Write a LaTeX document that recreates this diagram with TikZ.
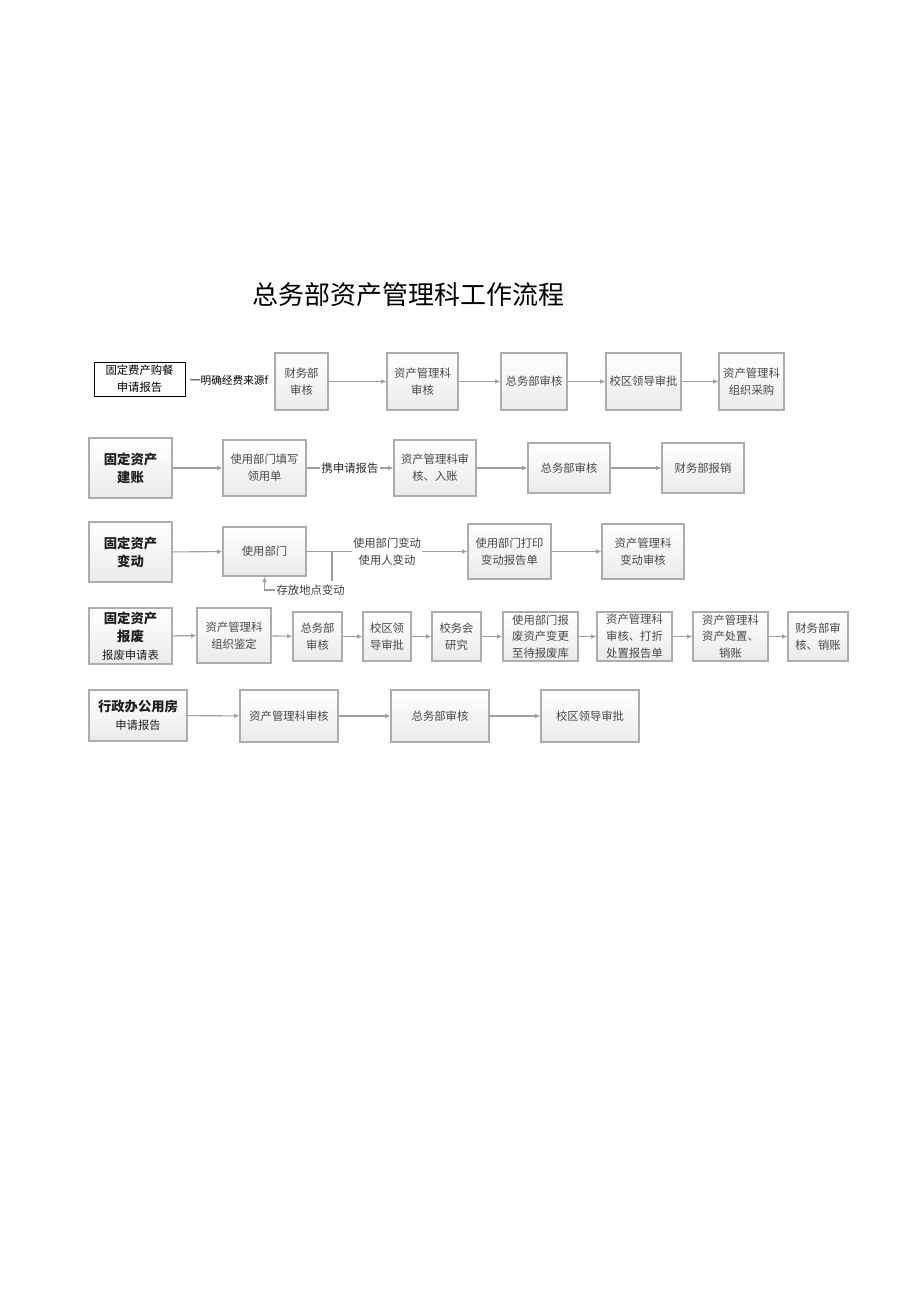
\documentclass[tikz,border=0pt]{standalone}
\usepackage{fontspec}
\setmainfont{Noto Sans CJK SC}
\usetikzlibrary{arrows.meta,shadows,calc}
\begin{document}
\begin{tikzpicture}[x=0.75pt,y=-0.75pt,
  sz/.style 2 args={minimum width=#1*0.75pt, minimum height=#2*0.75pt},
  box/.style={draw=gray!65, line width=0.8pt, top color=white, bottom color=gray!16,
    drop shadow={shadow xshift=0.9pt, shadow yshift=-0.9pt, opacity=0.25},
    align=center, inner sep=1pt, font=\fontsize{8.5}{13}\selectfont, text=black!72},
  tight/.style={inner sep=0pt, font=\fontsize{8.5}{12.6}\selectfont},
  head/.style={box, font=\fontsize{10}{13.5}\bfseries\selectfont, text=black!88},
  plainbox/.style={draw=black, line width=0.6pt, fill=white, align=center, inner sep=1pt,
    font=\fontsize{8.5}{13}\selectfont, text=black},
  arr/.style={draw=gray!75, line width=0.8pt, -{Latex[length=4pt,width=3.5pt]}},
  ln/.style={draw=gray!75, line width=0.8pt},
  lbl/.style={font=\fontsize{8.5}{12.5}\selectfont, text=black!75, inner sep=1pt, align=center}
]
\useasboundingbox (0,0) rectangle (920,1301);

% title
\node[font=\fontsize{19.5}{22}\selectfont, text=black] (title) at (408,295) {总务部资产管理科工作流程};

% row 1
\node[plainbox, sz={91}{34}] (a0) at (139.5,379) {固定费产购餐\\申请报告};
\node[lbl, font=\fontsize{8}{10}\selectfont, text=black] (lab1) at (229,380) {一明确经费来源f};
\node[box, sz={53}{57}] (a1) at (301.5,381.5) {财务部\\审核};
\node[box, sz={71}{57}] (a2) at (422.5,381.5) {资产管理科\\审核};
\node[box, sz={66}{57}] (a3) at (534,381.5) {总务部审核};
\node[box, sz={75}{57}] (a4) at (643.5,381.5) {校区领导审批};
\node[box, sz={65}{57}] (a5) at (751.5,381.5) {资产管理科\\组织采购};
\draw[arr] (a1) -- (a2);
\draw[arr] (a2) -- (a3);
\draw[arr] (a3) -- (a4);
\draw[arr] (a4) -- (a5);

% row 2
\node[head, sz={83}{60}] (b0) at (130.5,468) {固定资产\\建账};
\node[box, sz={83}{56}] (b1) at (264.5,468) {使用部门填写\\领用单};
\node[box, sz={82}{56}] (b2) at (435,468) {资产管理科审\\核、入账};
\node[box, sz={82}{50}] (b3) at (569,468) {总务部审核};
\node[box, sz={82}{50}] (b4) at (703,468) {财务部报销};
\draw[arr] (b0) -- (b1);
\draw[arr] (b1) -- node[lbl, fill=white, text=black!85] (lab2) {携申请报告} (b2);
\draw[arr] (b2) -- (b3);
\draw[arr] (b3) -- (b4);

% row 3
\node[head, sz={83}{60}] (c0) at (130.5,552) {固定资产\\变动};
\node[box, sz={83}{49}] (c1) at (264.5,551.5) {使用部门};
\node[box, sz={83}{55}] (c2) at (509.5,551.5) {使用部门打印\\变动报告单};
\node[box, sz={82}{55}] (c3) at (643,551.5) {资产管理科\\变动审核};
\draw[arr] (c0) -- (c1);
\draw[arr] (c1) -- node[lbl, fill=white, font=\fontsize{8.5}{12.75}\selectfont] (lab3) {使用部门变动\\使用人变动} (c2);
\draw[arr] (c2) -- (c3);
\coordinate (v1) at (332,551.5);
\coordinate (v2) at (332,581);
\draw[ln] (v1) -- (v2);
\node[lbl, anchor=west] (lab4) at (275,590) {存放地点变动};
\draw[arr] (lab4.west) -| (c1.south);

% row 4
\node[head, inner sep=0pt, sz={83}{56}] (d0) at (130.5,636) {固定资产\\报废\\{\fontsize{8.5}{12}\mdseries\selectfont 报废申请表}};
\node[box, sz={74}{55}] (d1) at (234,635.5) {资产管理科\\组织鉴定};
\node[box, sz={49}{49}] (d2) at (317.5,636.5) {总务部\\审核};
\node[box, sz={48}{49}] (d3) at (387,636.5) {校区领\\导审批};
\node[box, sz={49}{49}] (d4) at (456.5,636.5) {校务会\\研究};
\node[box, tight, sz={75}{49}] (d5) at (540.5,636.5) {使用部门报\\废资产变更\\至待报废库};
\node[box, tight, sz={75}{49}] (d6) at (634.5,636.5) {资产管理科\\审核、打折\\处置报告单};
\node[box, tight, sz={75}{49}] (d7) at (730.5,636.5) {资产管理科\\资产处置、\\销账};
\node[box, sz={60}{49}] (d8) at (818,636.5) {财务部审\\核、销账};
\draw[arr] (d0) -- (d1);
\draw[arr] (d1) -- (d2);
\draw[arr] (d2) -- (d3);
\draw[arr] (d3) -- (d4);
\draw[arr] (d4) -- (d5);
\draw[arr] (d5) -- (d6);
\draw[arr] (d6) -- (d7);
\draw[arr] (d7) -- (d8);

% row 5
\node[head, sz={98}{51}] (e0) at (138,715.5) {行政办公用房\\{\fontsize{8.5}{12}\mdseries\selectfont 申请报告}};
\node[box, sz={98}{52}] (e1) at (289,716) {资产管理科审核};
\node[box, sz={98}{52}] (e2) at (440,716) {总务部审核};
\node[box, sz={98}{52}] (e3) at (590,716) {校区领导审批};
\draw[arr] (e0) -- (e1);
\draw[arr] (e1) -- (e2);
\draw[arr] (e2) -- (e3);
\end{tikzpicture}
\end{document}
